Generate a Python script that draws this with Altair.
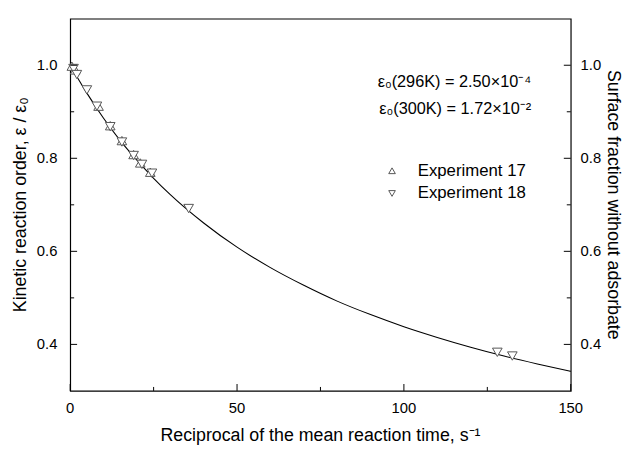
import altair as alt
import pandas as pd

# ---- data ----
curve_x = [0, 5, 10, 15, 20, 25, 30, 40, 50, 60, 70, 80, 90, 100, 110, 120, 130, 140, 150]
curve_y = [1.0, 0.94, 0.886, 0.838, 0.796, 0.757, 0.722, 0.661, 0.609, 0.565, 0.527,
           0.493, 0.464, 0.438, 0.415, 0.394, 0.375, 0.358, 0.342]

exp17_x = [0.5, 1.5, 8.5, 12.0, 15.5, 19.0, 21.0, 24.0]
exp17_y = [0.998, 0.990, 0.912, 0.870, 0.838, 0.808, 0.790, 0.770]

exp18_x = [1.0, 2.0, 5.0, 8.0, 12.0, 15.5, 19.0, 21.5, 24.5, 35.5, 128.0, 132.5]
exp18_y = [0.993, 0.980, 0.947, 0.912, 0.868, 0.835, 0.806, 0.787, 0.768, 0.692, 0.383, 0.375]

x_major = [0, 50, 100, 150]
x_minor = [25, 75, 125]
y_major = [0.4, 0.6, 0.8, 1.0]
y_minor = [0.5, 0.7, 0.9]

x_title = "Reciprocal of the mean reaction time, s⁻¹"
y_title = "Kinetic reaction order,  ε / ε₀"
y2_title = "Surface fraction without adsorbate"
annotations = ["ε₀(296K) = 2.50×10⁻⁴", "ε₀(300K) = 1.72×10⁻²"]
series_names = ["Experiment 17", "Experiment 18"]

W, H = 507, 377
FONT = "Liberation Sans"
TICK_FS = 15
TITLE_FS = 18
GRAY = "#555555"

xs = alt.Scale(domain=[0, 150], nice=False, zero=False)
ys = alt.Scale(domain=[0.3, 1.1], nice=False, zero=False)


def X(field="x"):
    return alt.X(f"{field}:Q", scale=xs, axis=None)


def Y(field="y"):
    return alt.Y(f"{field}:Q", scale=ys, axis=None)


curve = alt.Chart(pd.DataFrame({"x": curve_x, "y": curve_y})).mark_line(
    color="black", strokeWidth=1.1, interpolate="monotone").encode(x=X(), y=Y())

pts17 = alt.Chart(pd.DataFrame({"x": exp17_x, "y": exp17_y})).mark_point(
    shape="triangle-up", filled=False, fill="white", fillOpacity=1, stroke=GRAY,
    strokeWidth=1, size=95, opacity=1).encode(x=X(), y=Y())
pts18 = alt.Chart(pd.DataFrame({"x": exp18_x, "y": exp18_y})).mark_point(
    shape="triangle-down", filled=False, fill="white", fillOpacity=1, stroke=GRAY,
    strokeWidth=1, size=95, opacity=1).encode(x=X(), y=Y())


def xticks(vals, length):
    return alt.Chart(pd.DataFrame({"v": vals})).mark_rule(color="black", strokeWidth=1).encode(
        x=X("v"), y=alt.value(H), y2=alt.value(H - length))


def yticks(vals, length, right=False):
    x0 = W if right else 0
    x1 = W - length if right else length
    return alt.Chart(pd.DataFrame({"v": vals})).mark_rule(color="black", strokeWidth=1).encode(
        y=Y("v"), x=alt.value(x0), x2=alt.value(x1))


x_lab = alt.Chart(pd.DataFrame({"v": x_major, "t": [str(v) for v in x_major]})).mark_text(
    font=FONT, fontSize=TICK_FS, color="black", align="center", baseline="middle").encode(
    x=X("v"), y=alt.value(H + 17), text="t:N")

yl_lab = alt.Chart(pd.DataFrame({"v": y_major, "t": [f"{v:.1f}" for v in y_major]})).mark_text(
    font=FONT, fontSize=TICK_FS, color="black", align="right", baseline="middle").encode(
    y=Y("v"), x=alt.value(-13), text="t:N")

yr_lab = alt.Chart(pd.DataFrame({"v": y_major, "t": [f"{v:.1f}" for v in y_major]})).mark_text(
    font=FONT, fontSize=TICK_FS, color="black", align="left", baseline="middle").encode(
    y=Y("v"), x=alt.value(W + 10), text="t:N")


def label(text, x, y, angle=0, align="center", fs=TITLE_FS):
    return alt.Chart(pd.DataFrame({"t": [text]})).mark_text(
        font=FONT, fontSize=fs, color="black", align=align, baseline="middle", angle=angle).encode(
        x=alt.value(x), y=alt.value(y), text="t:N")


x_tt = label(x_title, W / 2, H + 46)
y_tt = label(y_title, -50, H / 2, angle=270)
y2_tt = label(y2_title, W + 43, H / 2, angle=90)

ann1 = label(annotations[0], 467, 64, align="right", fs=16.5)
ann2 = label(annotations[1], 467, 92, align="right", fs=16.5)

leg_sym1 = alt.Chart(pd.DataFrame({"t": [series_names[0]]})).mark_point(
    shape="triangle-up", filled=False, fill="white", stroke=GRAY, strokeWidth=1, size=45,
    opacity=1).encode(x=alt.value(326), y=alt.value(154))
leg_sym2 = alt.Chart(pd.DataFrame({"t": [series_names[1]]})).mark_point(
    shape="triangle-down", filled=False, fill="white", stroke=GRAY, strokeWidth=1, size=45,
    opacity=1).encode(x=alt.value(326), y=alt.value(177))
leg_t1 = label(series_names[0], 352, 154, align="left", fs=17)
leg_t2 = label(series_names[1], 352, 177, align="left", fs=17)

chart = alt.layer(
    curve, pts17, pts18,
    xticks(x_major, 7), xticks(x_minor, 4),
    yticks(y_major, 7), yticks(y_minor, 4),
    yticks(y_major, 7, right=True), yticks(y_minor, 4, right=True),
    x_lab, yl_lab, yr_lab, x_tt, y_tt, y2_tt, ann1, ann2,
    leg_sym1, leg_sym2, leg_t1, leg_t2,
).properties(
    width=W, height=H,
    autosize=alt.AutoSizeParams(type="none"),
    padding={"left": 63, "top": 8, "right": 58, "bottom": 58},
    background="white",
).configure_view(stroke="black", strokeWidth=1.2)

chart.save("out.html", embed_options={"renderer": "svg", "actions": False})
